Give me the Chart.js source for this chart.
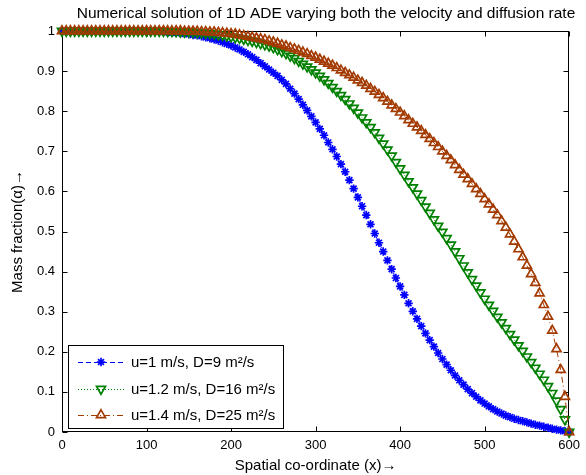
<!DOCTYPE html>
<html>
<head>
<meta charset="utf-8">
<title>1D ADE</title>
<script src="https://cdn.jsdelivr.net/npm/chart.js@4.4.1/dist/chart.umd.min.js"></script>
<style>
  body { margin: 0; background: #fff; }
  #wrap { position: relative; width: 586px; height: 475px; }
</style>
</head>
<body>
<div id="wrap"><canvas id="myChart"></canvas></div>
<script>
// spatial grid (x) and mass fraction for each case
const xs = [0,5,10,15,20,25,30,35,40,45,50,55,60,65,70,75,80,85,90,95,
  100,105,110,115,120,125,130,135,140,145,150,155,160,165,170,175,180,185,190,195,
  200,205,210,215,220,225,230,235,240,245,250,255,260,265,270,275,280,285,290,295,
  300,305,310,315,320,325,330,335,340,345,350,355,360,365,370,375,380,385,390,395,
  400,405,410,415,420,425,430,435,440,445,450,455,460,465,470,475,480,485,490,495,
  500,505,510,515,520,525,530,535,540,545,550,555,560,565,570,575,580,585,590,595,600];

const blue = [1,1,1,1,1,1,1,1,1,1,1,1,1,1,1,1,1,1,1,1,
  0.999,0.999,0.999,0.998,0.998,0.997,0.996,0.995,0.995,0.993,0.992,0.99,0.989,0.987,0.984,0.982,0.979,0.976,0.972,0.968,
  0.964,0.959,0.954,0.948,0.942,0.935,0.928,0.92,0.912,0.904,0.896,0.888,0.878,0.868,0.856,0.844,0.83,0.816,0.802,0.787,
  0.772,0.756,0.74,0.722,0.705,0.687,0.668,0.649,0.628,0.607,0.585,0.563,0.541,0.518,0.495,0.472,0.45,0.428,0.406,0.384,
  0.363,0.342,0.321,0.301,0.282,0.264,0.246,0.229,0.213,0.197,0.182,0.168,0.154,0.141,0.129,0.118,0.107,0.097,0.088,0.079,
  0.071,0.064,0.057,0.051,0.046,0.041,0.037,0.033,0.03,0.027,0.024,0.021,0.018,0.016,0.013,0.011,0.008,0.006,0.004,0.002,0];

const green = [1,1,1,1,1,1,1,1,1,1,1,1,1,1,1,1,1,1,1,1,
  1,1,1,1,1,0.999,0.999,0.999,0.998,0.998,0.998,0.997,0.996,0.996,0.995,0.994,0.993,0.991,0.99,0.988,
  0.986,0.984,0.982,0.98,0.977,0.975,0.972,0.969,0.966,0.963,0.959,0.954,0.949,0.944,0.938,0.932,0.925,0.918,0.911,0.904,
  0.896,0.888,0.879,0.87,0.86,0.85,0.84,0.83,0.819,0.808,0.796,0.784,0.772,0.76,0.747,0.733,0.719,0.704,0.689,0.673,
  0.657,0.641,0.625,0.61,0.594,0.578,0.562,0.546,0.53,0.514,0.499,0.483,0.467,0.45,0.433,0.415,0.398,0.381,0.365,0.348,
  0.332,0.317,0.302,0.287,0.273,0.259,0.244,0.23,0.216,0.202,0.188,0.174,0.16,0.145,0.13,0.114,0.097,0.078,0.057,0.031,0];

const brown = [1,1,1,1,1,1,1,1,1,1,1,1,1,1,1,1,1,1,1,1,
  1,1,1,1,1,1,1,1,1,0.999,0.999,0.999,0.999,0.998,0.998,0.997,0.997,0.996,0.995,0.994,
  0.993,0.992,0.99,0.988,0.986,0.984,0.982,0.98,0.978,0.975,0.972,0.969,0.965,0.962,0.958,0.955,0.951,0.947,0.943,0.938,
  0.934,0.929,0.924,0.919,0.914,0.908,0.902,0.896,0.89,0.884,0.877,0.871,0.864,0.856,0.849,0.841,0.833,0.824,0.815,0.806,
  0.797,0.788,0.778,0.769,0.76,0.751,0.741,0.731,0.721,0.711,0.7,0.689,0.678,0.666,0.654,0.642,0.631,0.619,0.606,0.594,
  0.581,0.568,0.555,0.541,0.526,0.51,0.493,0.475,0.456,0.436,0.415,0.394,0.372,0.346,0.317,0.288,0.253,0.207,0.155,0.088,0];

const seriesNames = ['u=1 m/s, D=9 m\u00b2/s', 'u=1.2 m/s, D=16 m\u00b2/s', 'u=1.4 m/s, D=25 m\u00b2/s'];
const xTicks = [0,100,200,300,400,500,600];
const yTicks = [0,0.1,0.2,0.3,0.4,0.5,0.6,0.7,0.8,0.9,1];
const xTickLabels = ['0','100','200','300','400','500','600'];
const yTickLabels = ['0','0.1','0.2','0.3','0.4','0.5','0.6','0.7','0.8','0.9','1'];
const titleText = 'Numerical solution of 1D ADE varying both the velocity and diffusion rate';

const FONT = 'Liberation Sans, Arial, Helvetica, sans-serif';

const toPts = arr => xs.map((x, i) => ({ x: x, y: arr[i] }));

// box round the axes, with the tick marks pointing inward (matlab style)
const boxPlugin = {
  id: 'box',
  beforeDatasetsDraw(chart) {
    const { ctx, chartArea: a, scales } = chart;
    const L = Math.round(a.left) + 0.5, R = Math.round(a.right) - 0.5;
    const T = Math.round(a.top) + 0.5, B = Math.round(a.bottom) - 0.5;
    ctx.save();
    ctx.strokeStyle = '#000';
    ctx.lineWidth = 1;
    ctx.strokeRect(L, T, R - L, B - T);
    ctx.beginPath();
    xTicks.forEach(v => {
      const px = Math.round(scales.x.getPixelForValue(v)) + 0.5;
      ctx.moveTo(px, B); ctx.lineTo(px, B - 5);
      ctx.moveTo(px, T); ctx.lineTo(px, T + 5);
    });
    yTicks.forEach(v => {
      const py = Math.round(scales.y.getPixelForValue(v)) + 0.5;
      ctx.moveTo(L, py); ctx.lineTo(L + 5, py);
      ctx.moveTo(R, py); ctx.lineTo(R - 5, py);
    });
    ctx.stroke();
    ctx.restore();
  },
  afterDraw(chart) {
    const ctx = chart.ctx;
    ctx.save();
    // title
    ctx.fillStyle = '#000';
    ctx.font = '15.5px ' + FONT;
    ctx.textAlign = 'center';
    ctx.textBaseline = 'middle';
    ctx.fillText(titleText, 326, 14);

    // legend
    const bx = 68.5, by = 345.5, bw = 215, bh = 83;
    ctx.fillStyle = '#fff';
    ctx.fillRect(bx, by, bw, bh);
    ctx.strokeStyle = '#000';
    ctx.lineWidth = 1;
    ctx.strokeRect(bx, by, bw, bh);
    const rows = [362, 389, 415];
    chart.data.datasets.forEach((ds, i) => {
      const y = rows[i];
      ctx.strokeStyle = ds.borderColor;
      ctx.lineWidth = 1;
      ctx.setLineDash(ds.borderDash);
      ctx.beginPath();
      ctx.moveTo(78, y + 0.5);
      ctx.lineTo(125, y + 0.5);
      ctx.stroke();
      ctx.setLineDash([]);
      ctx.fillStyle = 'rgba(0,0,0,0)';
      ctx.lineWidth = ds.pointBorderWidth;
      Chart.helpers.drawPoint(ctx, {
        pointStyle: ds.pointStyle, rotation: ds.pointRotation,
        radius: ds.pointRadius, borderWidth: ds.pointBorderWidth
      }, 101, y);
      ctx.fillStyle = '#000';
      ctx.font = '15px ' + FONT;
      ctx.textAlign = 'left';
      ctx.textBaseline = 'middle';
      ctx.fillText(seriesNames[i], 131, y + 1);
    });
    ctx.restore();
  }
};

const ctx = document.getElementById('myChart').getContext('2d');
const myChart = new Chart(ctx, {
  type: 'line',
  data: {
    datasets: [{
      label: seriesNames[0],
      data: toPts(blue),
      borderColor: '#0000ff',
      borderWidth: 1,
      borderDash: [5, 3],
      pointStyle: 'star',
      pointRotation: 0,
      pointRadius: 4.2,
      pointBorderWidth: 1.7,
      pointBorderColor: '#0000ff',
      pointBackgroundColor: 'rgba(0,0,0,0)',
      clip: false,
      order: 2
    }, {
      label: seriesNames[1],
      data: toPts(green),
      borderColor: '#008000',
      borderWidth: 1,
      borderDash: [1, 2],
      pointStyle: 'triangle',
      pointRotation: 180,
      pointRadius: 5.2,
      pointBorderWidth: 1.7,
      pointBorderColor: '#008000',
      pointBackgroundColor: 'rgba(0,0,0,0)',
      clip: false,
      order: 1
    }, {
      label: seriesNames[2],
      data: toPts(brown),
      borderColor: '#a33a00',
      borderWidth: 1,
      borderDash: [6, 3, 1, 3],
      pointStyle: 'triangle',
      pointRotation: 0,
      pointRadius: 5.2,
      pointBorderWidth: 1.7,
      pointBorderColor: '#a33a00',
      pointBackgroundColor: 'rgba(0,0,0,0)',
      clip: false,
      order: 0
    }]
  },
  options: {
    responsive: true,
    maintainAspectRatio: false,
    animation: false,
    layout: { padding: { left: 0, right: 16, top: 31, bottom: 0 } },
    plugins: {
      legend: { display: false },
      title: { display: false },
      tooltip: { enabled: false }
    },
    scales: {
      x: {
        type: 'linear',
        min: 0, max: 600,
        afterBuildTicks: s => { s.ticks = xTicks.map(v => ({ value: v })); },
        afterFit: s => { s.height = 43; },
        grid: { display: false, drawTicks: false },
        border: { display: false },
        ticks: {
          padding: 6,
          color: '#000',
          font: { family: FONT, size: 13 },
          maxRotation: 0,
          autoSkip: false,
          callback: (v, i) => xTickLabels[i]
        },
        title: {
          display: true,
          text: 'Spatial co-ordinate (x)\u2192',
          color: '#000',
          font: { family: FONT, size: 15 },
          padding: { top: 0, bottom: 0 }
        }
      },
      y: {
        type: 'linear',
        min: 0, max: 1,
        afterBuildTicks: s => { s.ticks = yTicks.map(v => ({ value: v })); },
        afterFit: s => { s.width = 62; },
        grid: { display: false, drawTicks: false },
        border: { display: false },
        ticks: {
          padding: 7,
          color: '#000',
          font: { family: FONT, size: 13 },
          autoSkip: false,
          callback: (v, i) => yTickLabels[i]
        },
        title: {
          display: true,
          text: 'Mass fraction(\u03b1)\u2192',
          color: '#000',
          font: { family: FONT, size: 15 },
          padding: { top: 9, bottom: 0 }
        }
      }
    }
  },
  plugins: [boxPlugin]
});
</script>
</body>
</html>
